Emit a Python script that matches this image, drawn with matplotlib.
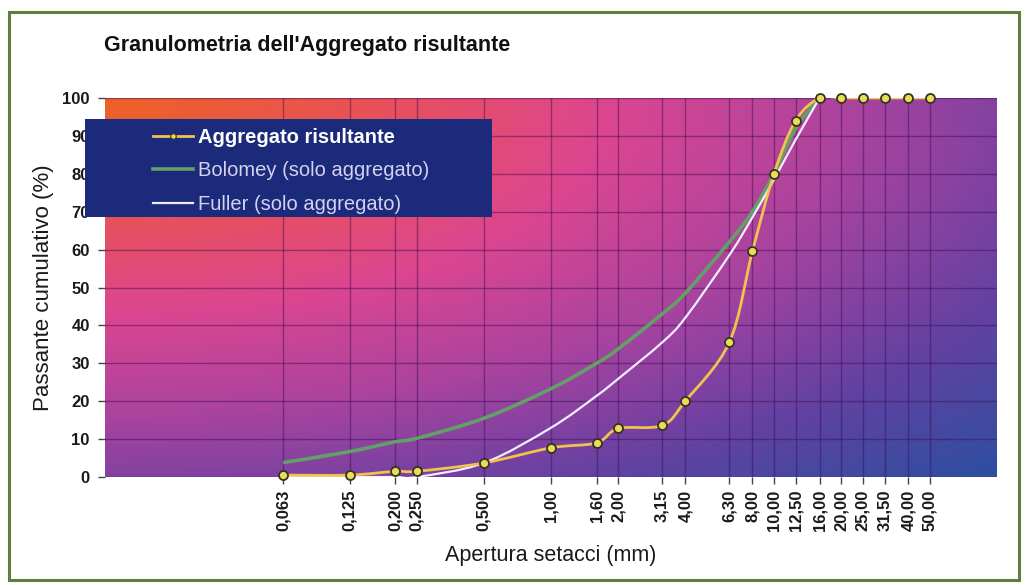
import numpy as np
import matplotlib.pyplot as plt
from matplotlib.colors import LinearSegmentedColormap
from matplotlib.patches import Rectangle, PathPatch
from matplotlib.path import Path
from matplotlib.lines import Line2D
from matplotlib.ticker import NullLocator

plt.rcParams['font.family'] = ['Liberation Sans', 'DejaVu Sans']

# sieve openings (mm) and their labels
sizes = [0.063, 0.125, 0.2, 0.25, 0.5, 1.0, 1.6, 2.0, 3.15, 4.0,
         6.3, 8.0, 10.0, 12.5, 16.0, 20.0, 25.0, 31.5, 40.0, 50.0]
size_labels = ['0,063', '0,125', '0,200', '0,250', '0,500', '1,00', '1,60', '2,00',
               '3,15', '4,00', '6,30', '8,00', '10,00', '12,50', '16,00', '20,00',
               '25,00', '31,50', '40,00', '50,00']

# passing % for the resulting aggregate (all sieves)
aggregato = [0.5, 0.5, 1.5, 1.5, 3.7, 7.7, 9.0, 12.8, 13.6, 20.0,
             35.5, 59.5, 80.0, 94.0, 100, 100, 100, 100, 100, 100]
# reference curves, up to 16 mm
ref_sizes = sizes[:15]
bolomey = [3.8, 6.7, 9.3, 10.2, 15.5, 23.3, 30.0, 33.8, 43.0, 48.5,
           62.0, 70.0, 80.0, 92.0, 100]
fuller = [0, 0, 0, 0, 3.7, 13.0, 21.4, 25.9, 35.5, 42.0,
          58.5, 68.5, 78.5, 89.0, 100]


def smooth_path(xs, ys):
    # spreadsheet-style smoothed line: bezier segments through the data points
    pts = np.column_stack([np.log10(xs), np.asarray(ys, dtype=float)])
    n = len(pts)
    verts = [pts[0]]
    codes = [Path.MOVETO]
    for i in range(n - 1):
        p0 = pts[i - 1] if i > 0 else pts[i]
        p3 = pts[i + 2] if i + 2 < n else pts[i + 1]
        verts += [pts[i] + (pts[i + 1] - p0) / 6,
                  pts[i + 1] - (p3 - pts[i]) / 6,
                  pts[i + 1]]
        codes += [Path.CURVE4] * 3
    verts = np.array(verts)
    verts[:, 0] = 10 ** verts[:, 0]
    return Path(verts, codes)


fig = plt.figure(figsize=(10.26, 5.85), dpi=100)

# olive frame round the whole picture
fig.patches.append(Rectangle((9/1026, 1-580/585), 1010/1026, 568/585,
                             transform=fig.transFigure, fill=False,
                             edgecolor='#5f7d3e', linewidth=2.2))

pos = [105/1026, 1-477/585, (997-105)/1026, (477-98)/585]

# gradient background (orange corner -> pink -> purple -> blue)
bg = fig.add_axes(pos, zorder=0)
bg.axis('off')
cmap = LinearSegmentedColormap.from_list('bg', [
    (0.0, '#ec6226'), (0.22, '#e8515a'), (0.40, '#dc4690'),
    (0.60, '#a8439f'), (0.80, '#6441a2'), (1.0, '#2c4fa0')])
gx, gy = np.meshgrid(np.linspace(0, 1, 400), np.linspace(0, 1, 200))
dist = np.sqrt(gx**2 + gy**2) / np.sqrt(2)
bg.imshow(dist, cmap=cmap, aspect='auto', extent=[0, 1, 0, 1], origin='upper')

ax = fig.add_axes(pos, zorder=1)
ax.patch.set_alpha(0)

green_col = '#62a067'
white_col = '#f1ecff'
agg_col = '#f0c24e'

ax.add_patch(PathPatch(smooth_path(ref_sizes, bolomey), fill=False,
                       edgecolor=green_col, linewidth=2.6, zorder=3))
ax.add_patch(PathPatch(smooth_path(ref_sizes, fuller), fill=False,
                       edgecolor=white_col, linewidth=1.6, zorder=4))
ax.add_patch(PathPatch(smooth_path(sizes, aggregato), fill=False,
                       edgecolor=agg_col, linewidth=2.0, zorder=5))
ax.plot(sizes, aggregato, linestyle='none', marker='o', markersize=6.5,
        markerfacecolor='#e6de5a', markeredgecolor='#3a3020',
        markeredgewidth=1.3, zorder=5.5, clip_on=False)

ax.set_xscale('log')
ax.set_xlim(0.01, 100)
ax.set_ylim(0, 100)
ax.set_xticks(sizes)
ax.set_xticklabels(size_labels, rotation=90, fontsize=12, fontweight='bold')
ax.xaxis.set_minor_locator(NullLocator())
ax.set_yticks(range(0, 101, 10))
ax.set_yticklabels([str(v) for v in range(0, 101, 10)], fontsize=12, fontweight='bold')
ax.tick_params(axis='both', length=5, width=1, color='#444444', pad=6, labelcolor='#1a1a1a')
ax.tick_params(axis='x', pad=4)

ax.grid(True, color='#3a0a50', alpha=0.45, linewidth=1)
for s in ax.spines.values():
    s.set_visible(False)

ax.set_xlabel('Apertura setacci (mm)', fontsize=15.5, color='#1a1a1a', labelpad=10)
ax.set_ylabel('Passante cumulativo (%)', fontsize=16, color='#1a1a1a', labelpad=6)

fig.text(104/1026, 1-46/585, "Granulometria dell'Aggregato risultante",
         fontsize=15.5, fontweight='bold', color='#111111', va='center', ha='left')

# navy legend box, laid over the plot area and the tick labels
ax.add_patch(Rectangle((85/1026, 1-217/585), 407/1026, 98/585,
                       transform=fig.transFigure, facecolor='#1b2a7a',
                       edgecolor='none', zorder=6, clip_on=False))
handles = [
    Line2D([], [], color=agg_col, linewidth=2.0, marker='o', markersize=4,
           markerfacecolor='#e6de5a', markeredgecolor='#3a3020', markeredgewidth=0.8),
    Line2D([], [], color=green_col, linewidth=2.6),
    Line2D([], [], color=white_col, linewidth=1.6),
]
labels = ['Aggregato risultante', 'Bolomey (solo aggregato)', 'Fuller (solo aggregato)']
leg = ax.legend(handles, labels, loc='upper left',
                bbox_to_anchor=(153/1026, 1-128/585), bbox_transform=fig.transFigure,
                frameon=False, fontsize=14.5, borderpad=0, borderaxespad=0,
                handlelength=2.0, handletextpad=0.25, labelspacing=0.72)
leg.set_zorder(10)
for i, t in enumerate(leg.get_texts()):
    if i == 0:
        t.set_color('white')
        t.set_fontweight('bold')
    else:
        t.set_color('#d4d2f0')

fig.savefig('out.png', dpi=100)
